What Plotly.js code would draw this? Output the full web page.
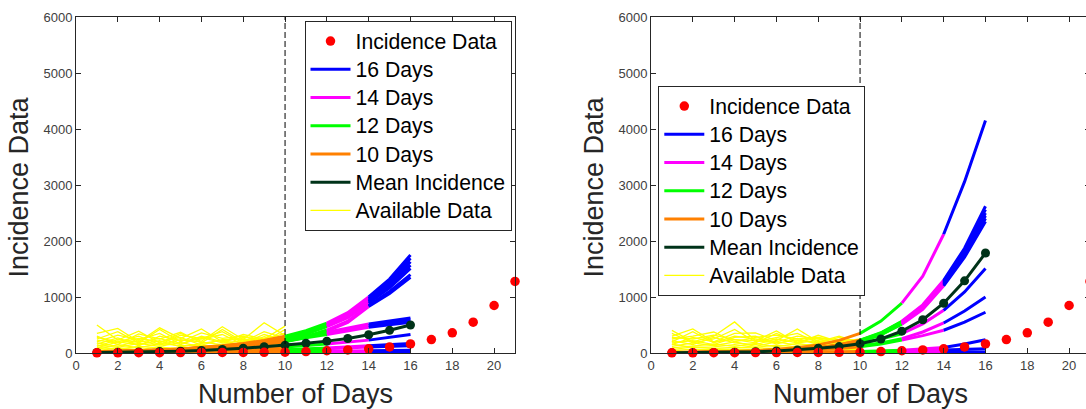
<!DOCTYPE html>
<html><head><meta charset="utf-8">
<script src="https://cdn.plot.ly/plotly-3.0.1.min.js"></script>
<style>html,body{margin:0;padding:0;overflow:hidden;background:#fff;} #chart{width:1095px;height:409px;}</style>
</head><body><div id="chart"></div>
<script>
// ---------- data ----------
const incidenceDays = [1,2,3,4,5,6,7,8,9,10,11,12,13,14,15,16,17,18,19,20,21];
const incidenceData = [3,4,5,6,7,8,9,10,12,14,25,40,55,75,108,162,240,360,550,848,1278];
const forecastDays = [1,2,3,4,5,6,7,8,9,10,11,12,13,14,15,16];
const availableDays = [1,2,3,4,5,6,7,8,9,10];

const meanLeft  = [8,12,18,25,33,45,62,85,112,140,175,212,258,326,405,500];
const meanRight = [3,6,10,15,22,35,55,85,115,165,250,390,593,889,1288,1785];

const runsLeft = [
  [23,31,41,54,72,96,128,170,225,300,400,535,720,1000,1320,1750],
  [22,29,38,51,68,91,121,161,214,285,380,515,690,970,1280,1690],
  [21,28,37,49,65,87,116,154,205,272,365,500,670,945,1240,1630],
  [20,27,35,47,62,83,110,147,196,260,350,485,650,915,1200,1570],
  [19,26,34,45,60,80,106,141,188,250,338,470,630,890,1165,1510],
  [16,22,29,38,51,68,90,120,160,212,290,410,570,850,1100,1400],
  [15,20,27,36,48,64,85,113,150,200,275,390,545,830,1060,1350],
  [20,28,38,52,70,92,120,155,195,240,305,370,450,520,575,625],
  [19,27,36,50,67,88,115,148,187,230,290,350,425,490,540,590],
  [18,25,34,47,63,83,108,140,176,215,275,330,400,460,505,550],
  [6,9,13,18,25,34,46,62,82,105,132,160,195,230,280,330],
  [4,5,7,10,14,19,25,33,43,56,72,90,110,130,150,170],
  [3,4,6,8,11,15,20,26,35,45,58,75,90,105,118,130],
  [2,3,4,5,7,9,11,14,17,20,25,30,35,40,45,50],
  [1,2,2,3,3,4,5,5,6,7,8,10,11,12,14,15]
];
const runsRight = [
  [7,11,17,26,40,61,94,145,225,350,570,890,1370,2120,3060,4150],
  [4,6,10,15,24,38,59,93,146,230,362,567,860,1300,1870,2620],
  [4,6,9,15,23,37,58,91,143,225,354,555,842,1280,1830,2560],
  [4,6,9,14,22,36,56,89,140,220,346,545,826,1260,1800,2500],
  [4,6,9,14,22,35,55,87,137,215,338,535,810,1240,1770,2450],
  [4,5,9,14,21,34,54,85,134,210,330,525,795,1220,1740,2400],
  [3,5,8,13,21,33,52,83,131,205,323,515,780,1200,1710,2350],
  [7,10,14,20,29,41,59,85,122,175,250,345,520,763,1090,1509],
  [6,8,12,16,23,33,46,65,92,130,180,256,375,537,750,1002],
  [6,9,12,16,22,31,42,58,80,110,160,230,310,406,550,728],
  [3,4,5,6,8,10,13,17,22,28,38,50,70,100,160,238],
  [2,3,3,4,5,6,8,10,12,15,22,30,42,55,65,78],
  [1,1,2,2,3,3,4,5,6,8,12,15,16,18,19,20]
];

const availableLeft = [
  [500,230,390,180,350,210,470,240,540,310],
  [350,440,200,450,260,430,200,330,250,480],
  [300,150,340,250,370,180,420,200,380,260],
  [250,380,180,420,200,360,260,300,200,420],
  [280,200,300,150,320,260,380,180,330,220],
  [200,320,240,350,160,300,200,280,240,350],
  [160,270,130,300,220,250,330,150,290,200],
  [230,180,260,200,280,140,240,250,170,300],
  [120,240,190,260,150,280,180,220,260,180],
  [180,120,220,140,240,200,150,190,140,250],
  [90,200,150,220,110,170,230,130,200,150],
  [140,100,170,120,190,110,160,170,110,200],
  [60,150,90,170,130,140,100,150,160,120],
  [100,70,120,90,80,120,130,90,120,100],
  [40,90,60,110,70,80,90,60,80,70]
];
const availableRight = [
  [405,200,300,555,220,394,180,316,200,250],
  [300,430,200,350,358,220,430,200,300,180],
  [250,300,375,200,280,320,250,280,220,230],
  [350,180,250,420,200,280,350,180,280,200],
  [200,380,180,300,250,200,300,250,180,220],
  [280,250,320,240,180,350,200,260,240,160],
  [180,220,150,280,300,160,260,150,220,190],
  [220,150,280,180,150,250,180,220,150,200],
  [150,280,200,240,220,180,230,180,200,140],
  [120,180,130,200,120,200,140,160,130,170],
  [90,130,160,120,170,110,170,120,160,120],
  [160,100,110,150,100,140,110,130,100,110],
  [60,110,80,100,90,80,100,80,90,80],
  [40,70,60,70,60,70,60,60,70,60]
];

const xTickVals = [0,2,4,6,8,10,12,14,16,18,20];
const yTickVals = [0,1000,2000,3000,4000,5000,6000];
const segmentNames = ['10 Days','12 Days','14 Days','16 Days'];

// ---------- helpers ----------
const FONT = 'Liberation Sans, Arial, Helvetica, sans-serif';
const COLORS = {'10 Days':'#ff8000','12 Days':'#00ff00','14 Days':'#ff00ff','16 Days':'#0000ff'};
const SEG = {'10 Days':[1,10],'12 Days':[10,12],'14 Days':[12,14],'16 Days':[14,16]};
const RANK = {'Incidence Data':1,'16 Days':2,'14 Days':3,'12 Days':4,'10 Days':5,'Mean Incidence':6,'Available Data':7};
const MEAN_COLOR = '#003319';
const label = n => '<span style="font-size:21.2px">' + n + '</span>';

function joinRuns(runs, xs, from, to) {
  const x = [], y = [];
  runs.forEach(r => {
    xs.forEach((d, i) => { if (d >= from && d <= to) { x.push(d); y.push(r[i]); } });
    x.push(null); y.push(null);
  });
  return {x, y};
}

function panel(runs, avail, mean, xa, ya, lg) {
  const traces = [];
  const a = joinRuns(avail, availableDays, 1, 10);
  traces.push({type:'scatter', mode:'lines', x:a.x, y:a.y, xaxis:xa, yaxis:ya, legend:lg,
    name:label('Available Data'), legendrank:RANK['Available Data'], line:{color:'#ffff00', width:1.3}, hoverinfo:'skip'});
  segmentNames.forEach(n => {
    const s = joinRuns(runs, forecastDays, SEG[n][0], SEG[n][1]);
    traces.push({type:'scatter', mode:'lines', x:s.x, y:s.y, xaxis:xa, yaxis:ya, legend:lg,
      name:label(n), legendrank:RANK[n], line:{color:COLORS[n], width:3}, hoverinfo:'skip'});
  });
  traces.push({type:'scatter', mode:'lines', x:forecastDays, y:mean, xaxis:xa, yaxis:ya, legend:lg,
    name:label('Mean Incidence'), legendrank:RANK['Mean Incidence'], line:{color:MEAN_COLOR, width:3}});
  traces.push({type:'scatter', mode:'markers', x:forecastDays, y:mean, xaxis:xa, yaxis:ya, legend:lg,
    showlegend:false, marker:{color:MEAN_COLOR, size:9}});
  traces.push({type:'scatter', mode:'markers', x:incidenceDays, y:incidenceData, xaxis:xa, yaxis:ya, legend:lg,
    name:label('Incidence Data'), legendrank:RANK['Incidence Data'], marker:{color:'#ff0000', size:9.5}, cliponaxis:false});
  return traces;
}

const data = panel(runsLeft, availableLeft, meanLeft, 'x', 'y', 'legend')
  .concat(panel(runsRight, availableRight, meanRight, 'x2', 'y2', 'legend2'));

const axisCommon = {
  showgrid:false, zeroline:false, showline:true, linecolor:'#262626', linewidth:1,
  mirror:'ticks', ticks:'inside', ticklen:5, tickcolor:'#262626', tickwidth:1,
  tickfont:{family:FONT, size:13, color:'#404040'}
};
const xa = Object.assign({}, axisCommon, {range:[0,21], tickvals:xTickVals, tickformat:'d'});
const ya = Object.assign({}, axisCommon, {range:[0,6000], tickvals:yTickVals, tickformat:'d'});

const W = 1095, L = 76, R = 5, PW = W - L - R;
const px = v => (v - L) / PW;
const T = 17, PH = 336;
const py = v => 1 - (v - T) / PH;

const legendCommon = {
  bgcolor:'#ffffff', bordercolor:'#262626', borderwidth:1,
  font:{family:FONT, size:19.4, color:'#000000'}, itemwidth:40, tracegroupgap:0,
  xanchor:'left', yanchor:'top', traceorder:'normal'
};

const titleFont = {family:FONT, size:27, color:'#262626'};
const layout = {
  width:W, height:409,
  margin:{l:L, r:R, t:T, b:409-T-PH, pad:0},
  paper_bgcolor:'#ffffff', plot_bgcolor:'#ffffff',
  showlegend:true,
  xaxis:Object.assign({}, xa, {domain:[0, px(515)], anchor:'y'}),
  yaxis:Object.assign({}, ya, {domain:[0,1], anchor:'x'}),
  xaxis2:Object.assign({}, xa, {domain:[px(651), 1], anchor:'y2'}),
  yaxis2:Object.assign({}, ya, {domain:[0,1], anchor:'x2'}),
  legend:Object.assign({}, legendCommon, {x:px(304.5), y:py(21)}),
  legend2:Object.assign({}, legendCommon, {x:px(658.3), y:py(86)}),
  shapes:[
    {type:'line', xref:'x', yref:'y', x0:10, x1:10, y0:0, y1:6000, layer:'above', line:{color:'#000000', width:1, dash:'6px,3px'}},
    {type:'line', xref:'x2', yref:'y2', x0:10, x1:10, y0:0, y1:6000, layer:'above', line:{color:'#000000', width:1, dash:'6px,3px'}}
  ],
  annotations:[
    {text:'Number of Days', xref:'paper', yref:'paper', x:(px(76)+px(515))/2, y:py(394.5), xanchor:'center', yanchor:'middle', showarrow:false, font:titleFont},
    {text:'Number of Days', xref:'paper', yref:'paper', x:(px(651)+px(1090))/2, y:py(394.5), xanchor:'center', yanchor:'middle', showarrow:false, font:titleFont},
    {text:'Incidence Data', xref:'paper', yref:'paper', x:px(18.5), y:py(187), xanchor:'center', yanchor:'middle', textangle:-90, showarrow:false, font:titleFont},
    {text:'Incidence Data', xref:'paper', yref:'paper', x:px(593.5), y:py(187), xanchor:'center', yanchor:'middle', textangle:-90, showarrow:false, font:titleFont}
  ]
};

Plotly.newPlot('chart', data, layout, {displayModeBar:false, staticPlot:true});
</script>
</body></html>
